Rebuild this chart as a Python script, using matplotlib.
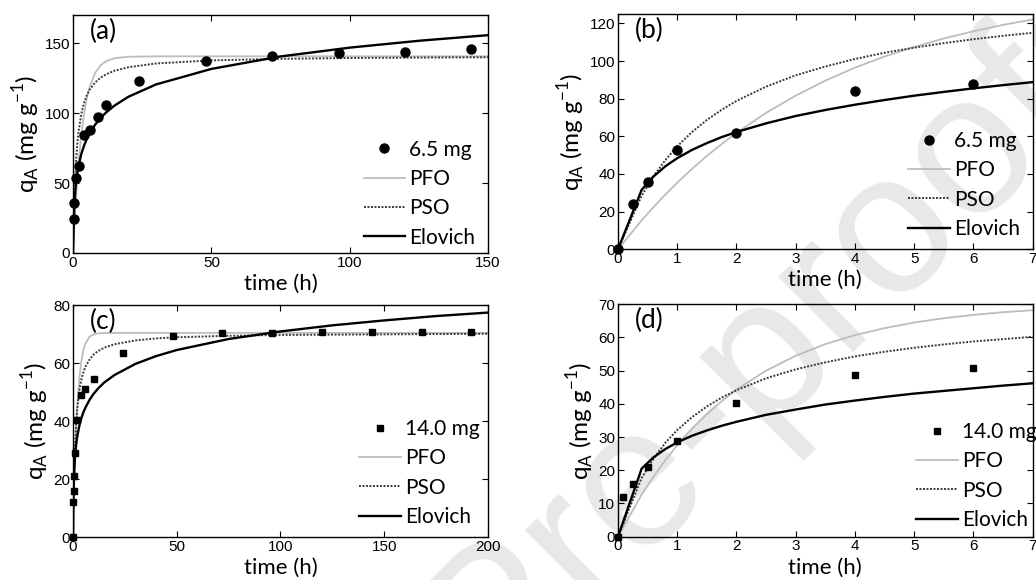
import matplotlib
matplotlib.use("Agg")
import matplotlib.pyplot as plt

# ---- (a) 6.5 mg, 0-150 h ----
ta_pts = [0.25, 0.5, 1, 2, 4, 6, 9, 12, 24, 48, 72, 96, 120, 144]
qa_pts = [24, 35.5, 53.5, 62, 84, 88, 97, 106, 123, 137.5, 141, 143, 143.5, 145.5]
ta_fit = [0, 0.25, 0.5, 1, 1.5, 2, 3, 4, 5, 6, 8, 10, 12, 15, 20, 30, 50, 75, 100, 125, 150]
qa_pfo = [0, 10.5, 20.2, 37.5, 52.3, 64.9, 85.1, 99.8, 110.7, 118.6, 128.7, 134.2, 137.1,
          139.2, 140.2, 140.5, 140.5, 140.5, 140.5, 140.5, 140.5]
qa_pso = [0, 23.5, 40.3, 62.7, 76.9, 86.8, 99.5, 107.4, 112.8, 116.7, 121.9, 125.3, 127.7,
          130.2, 132.7, 135.4, 137.6, 138.7, 139.3, 139.6, 139.8]
qa_elo = [0, 24.2, 35.5, 48.4, 56.4, 62.3, 70.8, 76.8, 81.6, 85.5, 91.7, 96.5, 100.5,
          105.3, 111.6, 120.4, 131.5, 140.4, 146.7, 151.6, 155.6]

# ---- (b) 6.5 mg, 0-7 h ----
tb_pts = [0, 0.25, 0.5, 1, 2, 4, 6]
qb_pts = [0, 24, 35.5, 53, 62, 84, 88]
tb_fit = [0, 0.4, 0.6, 0.8, 1, 1.25, 1.5, 1.75, 2, 2.5, 3, 3.5, 4, 4.5, 5, 5.5, 6, 6.5, 7]
qb_pfo = [0, 15.4, 22.4, 29.1, 35.4, 42.7, 49.6, 55.9, 61.8, 72.5, 81.6, 89.6, 96.5,
          102.4, 107.5, 112.0, 115.8, 119.2, 122.1]
qb_pso = [0, 28.5, 38.8, 47.4, 54.7, 62.3, 68.7, 74.1, 78.8, 86.4, 92.4, 97.1, 101.1,
          104.4, 107.1, 109.5, 111.6, 113.4, 115.0]
qb_elo = [0, 31.6, 38.7, 44.1, 48.4, 52.8, 56.4, 59.6, 62.3, 66.9, 70.8, 74.0, 76.8,
          79.3, 81.6, 83.6, 85.5, 87.2, 88.8]

# ---- (c) 14.0 mg, 0-200 h ----
tc_pts = [0, 0.083, 0.25, 0.5, 1, 2, 4, 6, 10, 24, 48, 72, 96, 120, 144, 168, 192]
qc_pts = [0, 12, 16, 21, 29, 40.5, 49, 51, 54.5, 63.5, 69.5, 70.2, 70.5, 70.6, 70.6, 70.6, 70.6]
tc_fit = [0, 0.1, 0.25, 0.5, 1, 1.5, 2, 3, 4, 5, 6, 8, 10, 12, 15, 20, 30, 40, 50, 75,
          100, 125, 150, 175, 200]
qc_pfo = [0, 3.4, 8.2, 15.5, 27.5, 36.9, 44.3, 54.5, 60.7, 64.5, 66.8, 69.1, 69.9, 70.2,
          70.4, 70.4, 70.4, 70.4, 70.4, 70.4, 70.4, 70.4, 70.4, 70.4, 70.4]
qc_pso = [0, 5.4, 12.2, 20.8, 32.1, 39.2, 44.1, 50.4, 54.3, 56.9, 58.8, 61.3, 63.0, 64.1,
          65.3, 66.5, 67.8, 68.5, 68.9, 69.4, 69.7, 69.8, 69.9, 70.0, 70.1]
qc_elo = [0, 10.2, 16.7, 22.4, 28.4, 32.0, 34.6, 38.3, 41.0, 43.1, 44.7, 47.4, 49.5, 51.2,
          53.3, 55.9, 59.7, 62.4, 64.5, 68.3, 70.9, 73.0, 74.7, 76.2, 77.4]

# ---- (d) 14.0 mg, 0-7 h ----
td_pts = [0, 0.083, 0.25, 0.5, 1, 2, 4, 6]
qd_pts = [0, 12, 16, 21, 28.8, 40.2, 48.8, 50.8]
td_fit = [0, 0.4, 0.6, 0.8, 1, 1.25, 1.5, 1.75, 2, 2.5, 3, 3.5, 4, 4.5, 5, 5.5, 6, 6.5, 7]
qd_pfo = [0, 12.7, 18.1, 23.1, 27.5, 32.5, 36.9, 40.8, 44.3, 50.0, 54.5, 58.0, 60.7,
          62.8, 64.5, 65.8, 66.8, 67.6, 68.2]
qd_pso = [0, 17.7, 23.5, 28.3, 32.1, 36.0, 39.2, 41.9, 44.1, 47.7, 50.4, 52.5, 54.3,
          55.7, 56.9, 57.9, 58.8, 59.5, 60.2]
qd_elo = [0, 20.5, 23.9, 26.4, 28.4, 30.4, 32.0, 33.4, 34.6, 36.7, 38.3, 39.8, 41.0,
          42.1, 43.1, 43.9, 44.7, 45.5, 46.2]

label_font = "Lato"
tick_font = "Liberation Sans"

fig = plt.figure(figsize=(10.36, 5.8), dpi=100)

# watermark behind everything
fig.text(0.52, -0.025, "Journal Pre-proofs", fontsize=145, color="#e8e8e8",
         rotation=45, ha="center", va="center", family="Liberation Sans", zorder=-1)

panels = [
    # rect, letter, pts, fits, marker, legend label, xlim, xticks, ylim, yticks, legend anchor
    ([0.0705, 0.5638, 0.4005, 0.4103], "(a)", ta_pts, qa_pts, ta_fit, qa_pfo, qa_pso, qa_elo,
     "o", "6.5 mg", 150, [0, 50, 100, 150], 170, [0, 50, 100, 150], (1.0, -0.03)),
    ([0.5965, 0.5702, 0.4003, 0.4057], "(b)", tb_pts, qb_pts, tb_fit, qb_pfo, qb_pso, qb_elo,
     "o", "6.5 mg", 7, range(0, 8), 125, range(0, 121, 20), (1.0, -0.01)),
    ([0.0705, 0.0736, 0.4005, 0.4005], "(c)", tc_pts, qc_pts, tc_fit, qc_pfo, qc_pso, qc_elo,
     "s", "14.0 mg", 200, range(0, 201, 50), 80, range(0, 81, 20), (1.01, -0.01)),
    ([0.5965, 0.0747, 0.4003, 0.4007], "(d)", td_pts, qd_pts, td_fit, qd_pfo, qd_pso, qd_elo,
     "s", "14.0 mg", 7, range(0, 8), 70, range(0, 71, 10), (1.04, -0.025)),
]

for (rect, letter, tp, qp, tf, pfo, pso, elo, mk, lab, xmax, xt, ymax, yt, anchor) in panels:
    ax = fig.add_axes(rect)
    ax.set_facecolor("none")
    ax.plot(tf, pfo, color="#bdbdbd", lw=1.3, label="PFO")
    ax.plot(tf, pso, color="#3a3a3a", lw=1.4, ls=(0, (1, 0.8)), label="PSO")
    ax.plot(tf, elo, color="black", lw=1.7, label="Elovich")
    ms = 6.5 if mk == "o" else 5
    ax.plot(tp, qp, ls="none", marker=mk, ms=ms, color="black", label=lab,
            clip_on=False, zorder=5)
    ax.set_xlim(0, xmax)
    ax.set_ylim(0, ymax)
    ax.set_xticks(list(xt))
    ax.set_yticks(list(yt))
    ax.tick_params(direction="in", top=True, right=True, length=4, width=0.8,
                   labelsize=11, pad=2)
    for t in ax.get_xticklabels() + ax.get_yticklabels():
        t.set_family(tick_font)
    for s in ax.spines.values():
        s.set_linewidth(1.0)
    ax.set_xlabel("time (h)", family=label_font, fontsize=16, labelpad=3)
    ax.set_ylabel(r"q$_\mathregular{A}$ (mg g$^\mathregular{-1}$)", family=label_font,
                  fontsize=17.5, labelpad=1)
    ax.text(0.04, 0.985, letter, transform=ax.transAxes, family=label_font,
            fontsize=19, va="top", ha="left")
    h, l = ax.get_legend_handles_labels()
    order = [3, 0, 1, 2]
    ax.legend([h[i] for i in order], [l[i] for i in order], loc="lower right",
              bbox_to_anchor=anchor, frameon=False, handlelength=2.0, handletextpad=0.2,
              labelspacing=0.45, borderaxespad=0.2, prop={"family": label_font, "size": 15})

fig.savefig("out.png", dpi=100)
